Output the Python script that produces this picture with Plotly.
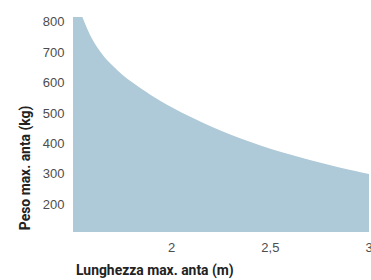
import plotly.graph_objects as go

lunghezza = [1.5, 1.525, 1.55, 1.6, 1.65, 1.7, 1.75, 1.8, 1.85, 1.9, 2.0, 2.1, 2.2, 2.3, 2.4, 2.5, 2.6, 2.7, 2.8, 2.9, 3.0]
peso = [920, 860, 812, 740, 692, 656, 626, 601, 578, 557, 519, 485.5, 455.5, 428.5, 404.5, 382.5, 363, 345, 328.5, 313, 299]

x_tickvals = [2, 2.5, 3]
x_ticktext = ["2", "2,5", "3"]
y_tickvals = [200, 300, 400, 500, 600, 700, 800]

TICK_FONT = "Liberation Sans, Arial, sans-serif"
TITLE_FONT = "Roboto, Liberation Sans, Arial, sans-serif"
FILL = "#aec9d7"

fig = go.Figure()
fig.add_trace(go.Scatter(
    x=lunghezza, y=peso, mode="lines", line=dict(width=0, shape="spline", color=FILL),
    fill="tozeroy", fillcolor=FILL, hoverinfo="skip", showlegend=False,
))

fig.update_layout(
    width=373, height=280,
    margin=dict(l=73, r=0, t=17, b=48),
    paper_bgcolor="white", plot_bgcolor="white",
    font=dict(family=TICK_FONT, size=13, color="#4d4d4d"),
    xaxis=dict(range=[1.5, 3.0], tickvals=x_tickvals, ticktext=x_ticktext,
               showgrid=False, zeroline=False, showline=False,
               ticks="outside", ticklen=3, tickcolor="rgba(0,0,0,0)",
               ticklabeloverflow="allow"),
    yaxis=dict(range=[108, 816], tickvals=y_tickvals,
               showgrid=False, zeroline=False, showline=False,
               ticks="outside", ticklen=5, tickcolor="rgba(0,0,0,0)"),
    annotations=[
        dict(text="<b>Lunghezza max. anta (m)</b>", xref="paper", yref="paper",
             x=0.005, y=-0.177, xanchor="left", yanchor="middle", showarrow=False,
             font=dict(family=TITLE_FONT, size=13.9, color="#222")),
        dict(text="<b>Peso max. anta (kg)</b>", xref="paper", yref="paper",
             x=-0.16, y=0, xanchor="center", yanchor="bottom", textangle=-90, showarrow=False,
             font=dict(family=TITLE_FONT, size=13.9, color="#222")),
    ],
)

fig.write_html("out.html", config={"displayModeBar": False},
               post_script="document.body.style.margin='0';document.body.style.overflow='hidden';")
